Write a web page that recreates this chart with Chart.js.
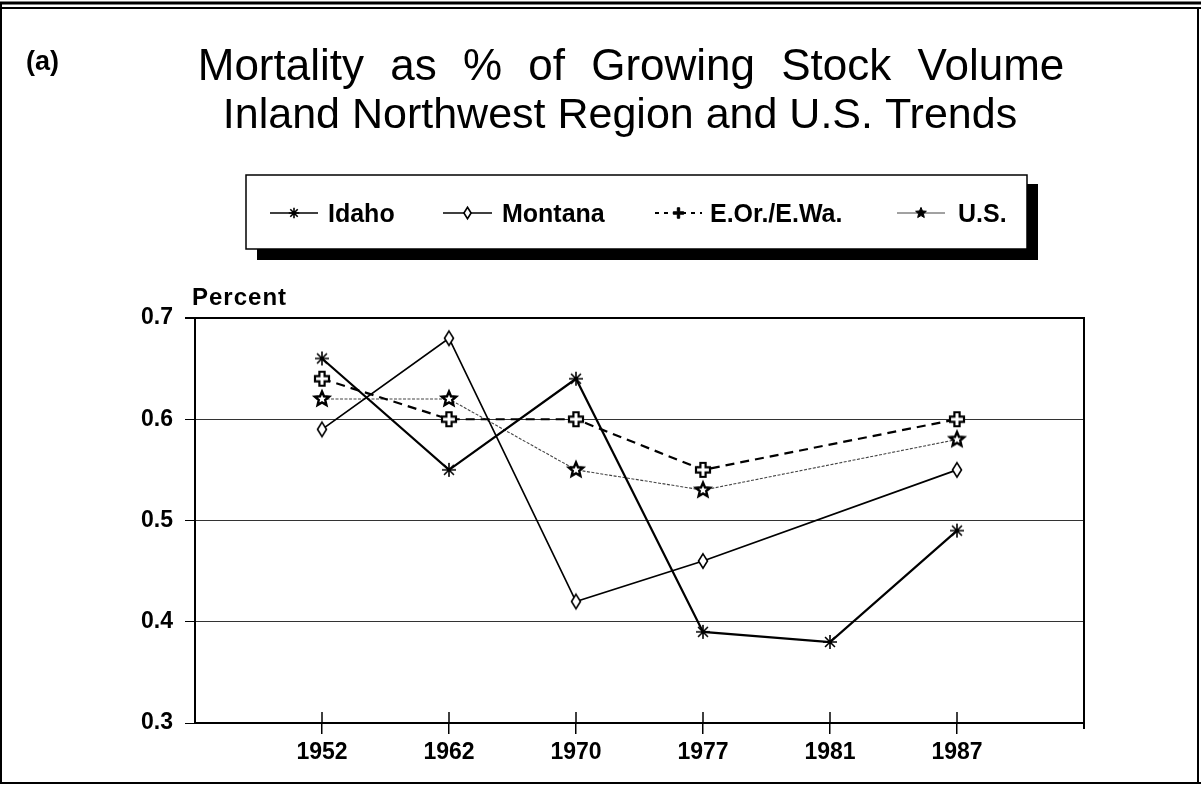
<!DOCTYPE html>
<html><head><meta charset="utf-8">
<script src="https://cdn.jsdelivr.net/npm/chart.js@4.4.1/dist/chart.umd.min.js"></script>
<style>html,body{margin:0;padding:0;background:#fff}#wrap{width:1201px;height:792px;position:relative}canvas{display:block}</style>
</head><body><div id="wrap"><canvas id="c" width="1201" height="792"></canvas></div>
<script>
// ---- data ----
const years = ['1952', '1962', '1970', '1977', '1981', '1987'];
const idaho = [0.66, 0.55, 0.64, 0.39, 0.38, 0.49];
const montana = [0.59, 0.68, 0.42, 0.46, null, 0.55];
const eorewa = [0.64, 0.60, 0.60, 0.55, null, 0.60];
const us = [0.62, 0.62, 0.55, 0.53, null, 0.58];
const seriesNames = ['Idaho', 'Montana', 'E.Or./E.Wa.', 'U.S.'];
const yTicks = [0.3, 0.4, 0.5, 0.6, 0.7];
const titleLines = ['Mortality as % of Growing Stock Volume', 'Inland Northwest Region and U.S. Trends'];
const panelLabel = '(a)';
const yAxisTitle = 'Percent';

const FONT = 'Liberation Sans, Arial, Helvetica, sans-serif';

// ---- marker drawing ----
function drawAsterisk(g, x, y, s) {
  g.save(); g.strokeStyle = '#000'; g.lineWidth = 1.6; g.beginPath();
  const r = 7 * s;
  for (let k = 0; k < 4; k++) {
    const a = k * Math.PI / 4 + Math.PI / 2;
    g.moveTo(x + r * Math.cos(a), y + r * Math.sin(a));
    g.lineTo(x - r * Math.cos(a), y - r * Math.sin(a));
  }
  g.stroke(); g.restore();
}
function drawDiamond(g, x, y, s) {
  g.save(); g.strokeStyle = '#000'; g.fillStyle = '#fff'; g.lineWidth = 1.6; g.beginPath();
  const w = 4.5 * s, h = 7.2 * s;
  g.moveTo(x, y - h); g.lineTo(x + w, y); g.lineTo(x, y + h); g.lineTo(x - w, y); g.closePath();
  g.fill(); g.stroke(); g.restore();
}
function drawPlus(g, x, y, s, solid) {
  g.save(); g.strokeStyle = '#000'; g.fillStyle = solid ? '#000' : '#fff'; g.lineWidth = solid ? 1 : 2.2; g.beginPath();
  const a = 7 * s, t = (solid ? 1.6 : 2.6) * s;
  const p = [[-t,-a],[t,-a],[t,-t],[a,-t],[a,t],[t,t],[t,a],[-t,a],[-t,t],[-a,t],[-a,-t],[-t,-t]];
  p.forEach((q, i) => i ? g.lineTo(x + q[0], y + q[1]) : g.moveTo(x + q[0], y + q[1]));
  g.closePath(); g.fill(); g.stroke(); g.restore();
}
function drawStar(g, x, y, s, solid) {
  g.save(); g.strokeStyle = '#000'; g.fillStyle = solid ? '#000' : '#fff'; g.lineWidth = solid ? 1 : 2.4; g.beginPath();
  const ro = 7.5 * s, ri = 3.4 * s;
  for (let k = 0; k < 10; k++) {
    const r = k % 2 ? ri : ro, a = -Math.PI / 2 + k * Math.PI / 5;
    const px = x + r * Math.cos(a), py = y + r * Math.sin(a);
    k ? g.lineTo(px, py) : g.moveTo(px, py);
  }
  g.closePath(); g.fill(); g.stroke(); g.restore();
}
function mk(size, fn) {
  const c = document.createElement('canvas'); c.width = size; c.height = size;
  fn(c.getContext('2d'), size / 2, size / 2); return c;
}
const mAst = mk(20, (g, x, y) => drawAsterisk(g, x, y, 1));
const mDia = mk(20, (g, x, y) => drawDiamond(g, x, y, 1));
const mPlus = mk(22, (g, x, y) => drawPlus(g, x, y, 1, false));
const mStar = mk(22, (g, x, y) => drawStar(g, x, y, 1, false));

const pts = arr => arr.map((v, i) => ({ x: i + 1, y: v }));

// ---- decoration plugin ----
const deco = {
  id: 'deco',
  beforeDatasetsDraw(chart) {
    const { ctx, chartArea: a, scales: { x } } = chart;
    ctx.save(); ctx.strokeStyle = '#000';
    ctx.lineWidth = 1.5;
    years.forEach((_, i) => {
      const px = x.getPixelForValue(i + 1);
      ctx.beginPath(); ctx.moveTo(px, a.bottom - 11); ctx.lineTo(px, a.bottom); ctx.stroke();
    });
    ctx.lineWidth = 2;
    ctx.beginPath(); ctx.moveTo(a.right, a.top - 1); ctx.lineTo(a.right, a.bottom + 6); ctx.stroke();
    ctx.restore();
  },
  afterDraw(chart) {
    const { ctx } = chart;
    ctx.save();
    // outer frame
    ctx.strokeStyle = '#000';
    ctx.lineWidth = 3; ctx.beginPath(); ctx.moveTo(0, 3); ctx.lineTo(1201, 3); ctx.stroke();
    ctx.lineWidth = 2; ctx.beginPath(); ctx.moveTo(0, 8); ctx.lineTo(1201, 8); ctx.stroke();
    ctx.beginPath(); ctx.moveTo(1, 3); ctx.lineTo(1, 783); ctx.stroke();
    ctx.beginPath(); ctx.moveTo(1198, 8); ctx.lineTo(1198, 783); ctx.stroke();
    ctx.beginPath(); ctx.moveTo(0, 783); ctx.lineTo(1201, 783); ctx.stroke();
    // panel label
    ctx.fillStyle = '#000'; ctx.textBaseline = 'alphabetic';
    ctx.font = 'bold 27px ' + FONT; ctx.textAlign = 'left';
    ctx.fillText(panelLabel, 26, 70);
    // title
    ctx.font = '44px ' + FONT; ctx.textAlign = 'center';
    ctx.wordSpacing = '14px';
    ctx.fillText(titleLines[0], 631, 80);
    ctx.wordSpacing = '0px';
    ctx.font = '43px ' + FONT;
    ctx.fillText(titleLines[1], 620, 128);
    // y axis title
    ctx.font = 'bold 24px ' + FONT; ctx.textAlign = 'left';
    ctx.letterSpacing = '1px';
    ctx.fillText(yAxisTitle, 192, 305);
    ctx.letterSpacing = '0px';
    // legend box with shadow
    const L = 246, T = 175, R = 1027, B = 249, sh = 11;
    ctx.fillStyle = '#000';
    ctx.fillRect(L + sh, B, R - L, sh);
    ctx.fillRect(R, T + sh - 2, sh, B - T + 2);
    ctx.fillStyle = '#fff'; ctx.fillRect(L, T, R - L, B - T);
    ctx.lineWidth = 1.5; ctx.strokeRect(L, T, R - L, B - T);
    const cy = 213;
    const items = [
      { x0: 270, x1: 318, tx: 328, dash: [], w: 1.6, col: '#000', m: (x) => drawAsterisk(ctx, x, cy, 0.75) },
      { x0: 443, x1: 492, tx: 502, dash: [], w: 1.6, col: '#000', m: (x) => drawDiamond(ctx, x, cy, 0.8) },
      { x0: 655, x1: 702, tx: 710, dash: [4, 5], w: 1.8, col: '#000', m: (x) => drawPlus(ctx, x, cy, 0.75, true) },
      { x0: 897, x1: 945, tx: 958, dash: [], w: 1, col: '#444', m: (x) => drawStar(ctx, x, cy, 0.75, true) }
    ];
    ctx.font = 'bold 25px ' + FONT; ctx.textAlign = 'left'; ctx.textBaseline = 'middle';
    items.forEach((it, i) => {
      ctx.save(); ctx.strokeStyle = it.col; ctx.lineWidth = it.w; ctx.setLineDash(it.dash);
      ctx.beginPath(); ctx.moveTo(it.x0, cy); ctx.lineTo(it.x1, cy); ctx.stroke(); ctx.restore();
      it.m((it.x0 + it.x1) / 2);
      ctx.fillStyle = '#000';
      ctx.fillText(chart.data.datasets[i].label, it.tx, cy + 2);
    });
    ctx.restore();
  }
};

const tickFont = { family: FONT, size: 23, weight: 'bold' };

new Chart(document.getElementById('c'), {
  type: 'line',
  data: {
    datasets: [
      { label: seriesNames[0], data: pts(idaho), borderColor: '#000', borderWidth: 2.2, pointStyle: mAst, pointRadius: 8, spanGaps: true, tension: 0 },
      { label: seriesNames[1], data: pts(montana), borderColor: '#000', borderWidth: 1.7, pointStyle: mDia, pointRadius: 8, spanGaps: true, tension: 0 },
      { label: seriesNames[2], data: pts(eorewa), borderColor: '#000', borderWidth: 2.2, borderDash: [9, 6], pointStyle: mPlus, pointRadius: 8, spanGaps: true, tension: 0 },
      { label: seriesNames[3], data: pts(us), borderColor: '#444', borderWidth: 1.1, borderDash: [3, 1.5], pointStyle: mStar, pointRadius: 8, spanGaps: true, tension: 0 }
    ]
  },
  options: {
    responsive: false, animation: false, devicePixelRatio: 1,
    layout: { padding: { top: 318, right: 117, left: 0, bottom: 0 } },
    plugins: { legend: { display: false }, tooltip: { enabled: false }, title: { display: false } },
    events: [],
    scales: {
      x: {
        type: 'linear', min: 0, max: years.length + 1,
        afterBuildTicks: s => { s.ticks = Array.from({ length: years.length + 2 }, (_, i) => ({ value: i })); },
        afterFit: s => { s.height = 69; },
        ticks: { callback: v => years[v - 1] || '', font: tickFont, color: '#000', padding: 5, maxRotation: 0, autoSkip: false },
        grid: { drawOnChartArea: false, tickLength: 11, lineWidth: 1.5,
          tickColor: c => (c.tick && c.tick.value >= 1 && c.tick.value <= years.length) ? '#000' : 'rgba(0,0,0,0)' },
        border: { color: '#000', width: 2 }
      },
      y: {
        min: yTicks[0], max: yTicks[yTicks.length - 1],
        afterBuildTicks: s => { s.ticks = yTicks.map(v => ({ value: v })); },
        afterFit: s => { s.width = 195; },
        ticks: { callback: v => v.toFixed(1), font: tickFont, color: '#000', padding: 12 },
        grid: { tickLength: 10, tickColor: '#000',
          color: c => c.tick && Math.abs(c.tick.value - 0.7) < 1e-6 ? '#000' : (c.tick && Math.abs(c.tick.value - 0.3) < 1e-6 ? 'rgba(0,0,0,0)' : '#333'),
          lineWidth: c => c.tick && Math.abs(c.tick.value - 0.7) < 1e-6 ? 2 : 1 },
        border: { color: '#000', width: 2 }
      }
    }
  },
  plugins: [deco]
});
</script>
</body></html>
